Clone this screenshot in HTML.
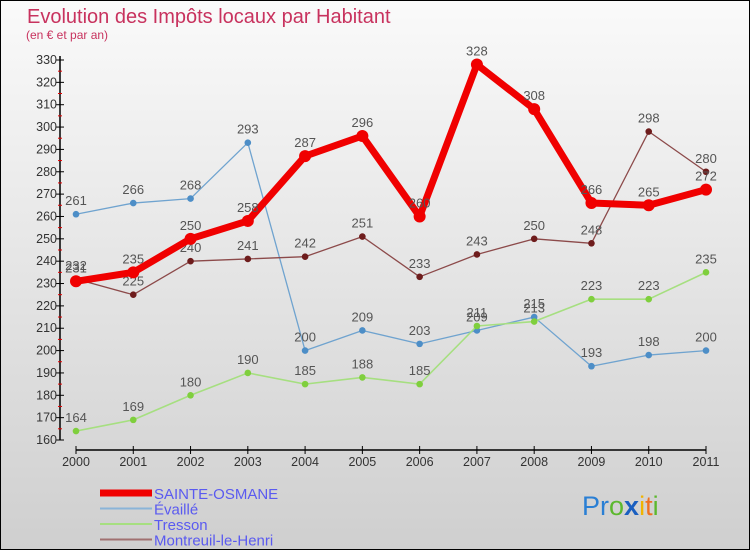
<!DOCTYPE html>
<html><head><meta charset="utf-8"><style>
html,body{margin:0;padding:0}
body{width:750px;height:550px;overflow:hidden;font-family:"Liberation Sans",sans-serif}
#wrap{position:relative;width:748px;height:548px;border:1px solid #000;background:linear-gradient(#fafafa,#cfcfcf)}
</style></head><body>
<div id="wrap">
<svg id="chart" width="748" height="548" viewBox="1 1 748 548">
<text x="27" y="23" font-size="20" fill="#c8325e">Evolution des Impôts locaux par Habitant</text>
<text x="26" y="39" font-size="12" fill="#c8325e">(en € et par an)</text>
<g id="axes"></g>
<g id="series"></g>
<g id="legend"></g>
<text x="582" y="515" font-size="27"><tspan fill="#2a7fd4">Pr</tspan><tspan fill="#5cb82e">o</tspan><tspan fill="#1a5fc0" font-weight="bold">x</tspan><tspan fill="#f0b400">i</tspan><tspan fill="#f07020">t</tspan><tspan fill="#5cb82e">i</tspan></text>
</svg>
</div>
<script>
const years=[2000,2001,2002,2003,2004,2005,2006,2007,2008,2009,2010,2011];
const yTicks=[160,170,180,190,200,210,220,230,240,250,260,270,280,290,300,310,320,330];
const sainteOsmane=[231,235,250,258,287,296,260,328,308,266,265,272];
const evaille=[261,266,268,293,200,209,203,209,215,193,198,200];
const tresson=[164,169,180,190,185,188,185,211,213,223,223,235];
const montreuil=[232,225,240,241,242,251,233,243,250,248,298,280];
const seriesNames=["SAINTE-OSMANE","Évaillé","Tresson","Montreuil-le-Henri"];
const NS="http://www.w3.org/2000/svg";
function xs(i){return 76+i*(706-76)/(years.length-1);}
function ys(v){return 440-(v-160)*380/170;}
function mk(tag,attrs,parent){const e=document.createElementNS(NS,tag);for(const k in attrs)e.setAttribute(k,attrs[k]);parent.appendChild(e);return e;}
const axes=document.getElementById('axes');
let ya=mk('line',{x1:60,y1:ys(330)-4,x2:60,y2:ys(160),stroke:'#000','stroke-width':1.5},axes);


yTicks.forEach((t,i)=>{
  const y=ys(t);
  mk('line',{x1:56,x2:64,y1:y,y2:y,stroke:'#000'},axes);
  if(i<yTicks.length-1) mk('line',{x1:58,x2:62,y1:y-11.2,y2:y-11.2,stroke:'#e00000'},axes);
  const tx=mk('text',{x:57,y:y+4,'font-size':12.5,'text-anchor':'end',fill:'#333'},axes);
  tx.textContent=t;
  
  
});
let xa=mk('line',{x1:xs(0),y1:450,x2:xs(11),y2:450,stroke:'#000','stroke-width':1.5},axes);


years.forEach((yr,i)=>{
  const x=xs(i);
  mk('line',{x1:x,x2:x,y1:446,y2:454,stroke:'#000'},axes);
  const tx=mk('text',{x:x,y:466,'font-size':12.5,'text-anchor':'middle',fill:'#333'},axes);
  tx.textContent=yr;
  
  
});
const sg=document.getElementById('series');
function draw(data,color,w,r,name,ptColor){
  const g=mk('g',{},sg);
  
  
  const pts=data.map((v,i)=>xs(i)+','+ys(v)).join(' ');
  const pl=mk('polyline',{points:pts,fill:'none',stroke:color,'stroke-width':w,'stroke-linejoin':'round'},g);
  
  
  data.forEach((v,i)=>{
    const c=mk('circle',{cx:xs(i),cy:ys(v),r:r,fill:ptColor},g);
    
    
    const t=mk('text',{x:xs(i),y:ys(v)-9,'font-size':13,'text-anchor':'middle',fill:'#555'},g);
    t.textContent=v;
    
    
  });
}
draw(evaille,'#6fa3cf',1.3,3.3,'evaille','#4d8ec7');
draw(tresson,'#a6df80',1.6,3.3,'tresson','#7fcf3d');
draw(montreuil,'#8c4a4a',1.3,3.3,'montreuil','#6e1c1c');
draw(sainteOsmane,'#f00000',7,6,'sainte-osmane','#f00000');
const lg=document.getElementById('legend');
const lc=[['#f00000',7],['#8ab4d8',2],['#a6df80',2],['#a07070',2]];
seriesNames.forEach((n,i)=>{
  const y=493+i*15.5;
  const ln=mk('line',{x1:100,x2:152,y1:y,y2:y,stroke:lc[i][0],'stroke-width':lc[i][1]},lg);
  
  
  const t=mk('text',{x:154,y:y+6,'font-size':15,fill:'#5a5af0'},lg);
  t.textContent=n;
  
  
});
</script>
</body></html>
